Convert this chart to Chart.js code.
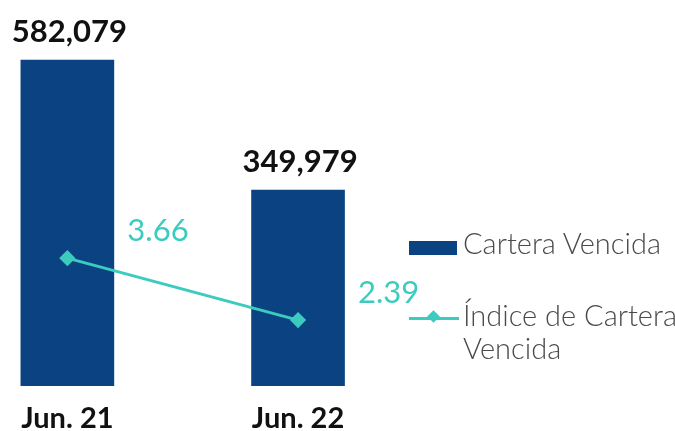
<!DOCTYPE html>
<html>
<head>
<meta charset="utf-8">
<script src="https://cdn.jsdelivr.net/npm/chart.js@4.4.0/dist/chart.umd.min.js"></script>
<style>
  html, body { margin: 0; padding: 0; background: #fff; }
  #wrap { position: relative; width: 675px; height: 431px; }
  #legend { position: absolute; left: 409px; top: 226px; font-family: Lato, sans-serif; font-weight: 300; color: #4a4a4a; font-size: 29px; }
  .item { position: absolute; left: 0; white-space: nowrap; }
  .txt { position: absolute; left: 54px; top: 0; line-height: 33px; }
</style>
</head>
<body>
<div id="wrap">
  <canvas id="chart" width="675" height="431"></canvas>
  <div id="legend"></div>
</div>
<script>
const categories = ['Jun. 21', 'Jun. 22'];
const carteraVencida = [582079, 349979];
const indiceCartera = [3.66, 2.39];
const seriesNames = ['Cartera Vencida', 'Índice de Cartera Vencida'];

const barColor = '#0b4382';
const lineColor = '#3ccbbf';

document.addEventListener('DOMContentLoaded', function () {
    const ctx = document.getElementById('chart');

    // etiquetas de valores encima de barras y puntos
    const valueLabels = {
        id: 'valueLabels',
        afterDatasetsDraw(chart) {
            const c = chart.ctx;
            c.save();
            chart.getDatasetMeta(0).data.forEach((bar, i) => {
                c.font = 'bold 31px Lato, sans-serif';
                c.fillStyle = '#111';
                c.textAlign = 'center';
                c.textBaseline = 'alphabetic';
                c.fillText(carteraVencida[i].toLocaleString('en-US'), bar.x + 2, bar.y - 18);
            });
            chart.getDatasetMeta(1).data.forEach((pt, i) => {
                c.font = '31px Lato, sans-serif';
                c.fillStyle = lineColor;
                c.textAlign = 'left';
                c.fillText(indiceCartera[i].toFixed(2), pt.x + 60, pt.y - 17);
            });
            c.restore();
        }
    };

    new Chart(ctx.getContext('2d'), {
        data: {
            datasets: [{
                type: 'bar',
                label: seriesNames[0],
                data: carteraVencida.map((v, i) => ({ x: i, y: v })),
                backgroundColor: barColor,
                barThickness: 93,
                yAxisID: 'y',
                order: 2
            }, {
                type: 'line',
                label: seriesNames[1],
                data: indiceCartera.map((v, i) => ({ x: i, y: v })),
                borderColor: lineColor,
                backgroundColor: lineColor,
                borderWidth: 3,
                pointStyle: 'rectRot',
                pointRadius: 6,
                yAxisID: 'y2',
                order: 1
            }]
        },
        options: {
            responsive: false,
            animation: false,
            layout: { padding: { top: 20, right: 275, left: 0, bottom: 0 } },
            plugins: {
                legend: { display: false },
                tooltip: { enabled: false }
            },
            scales: {
                x: {
                    type: 'linear',
                    offset: false,
                    min: -0.253,
                    max: 1.442,
                    grid: { display: false, drawTicks: false },
                    border: { display: false },
                    afterBuildTicks: function (scale) {
                        scale.ticks = categories.map((c, i) => ({ value: i }));
                    },
                    afterFit: function (scale) {
                        scale.height = 45;
                    },
                    ticks: {
                        autoSkip: false,
                        maxRotation: 0,
                        padding: 15,
                        color: '#111',
                        font: { family: 'Lato, sans-serif', size: 29, weight: 'bold' },
                        callback: function (v) { return categories[v]; }
                    }
                },
                y: {
                    display: false,
                    min: 0,
                    max: 653500
                },
                y2: {
                    display: false,
                    min: 1.04,
                    max: 8.54
                }
            }
        },
        plugins: [valueLabels]
    });

    // leyenda en HTML
    const legend = document.getElementById('legend');
    legend.innerHTML =
        '<div class="item" style="top:0">' +
        '<div style="position:absolute;left:0;top:15px;width:48px;height:14px;background:' + barColor + '"></div>' +
        '<div class="txt">' + seriesNames[0] + '</div></div>' +
        '<div class="item" style="top:72px">' +
        '<div style="position:absolute;left:0;top:19px;width:50px;height:3px;background:' + lineColor + '"></div>' +
        '<div style="position:absolute;left:20px;top:14px;width:9px;height:9px;transform:rotate(45deg);background:' + lineColor + '"></div>' +
        '<div class="txt">Índice de Cartera<br>Vencida</div></div>';
});
</script>
</body>
</html>
